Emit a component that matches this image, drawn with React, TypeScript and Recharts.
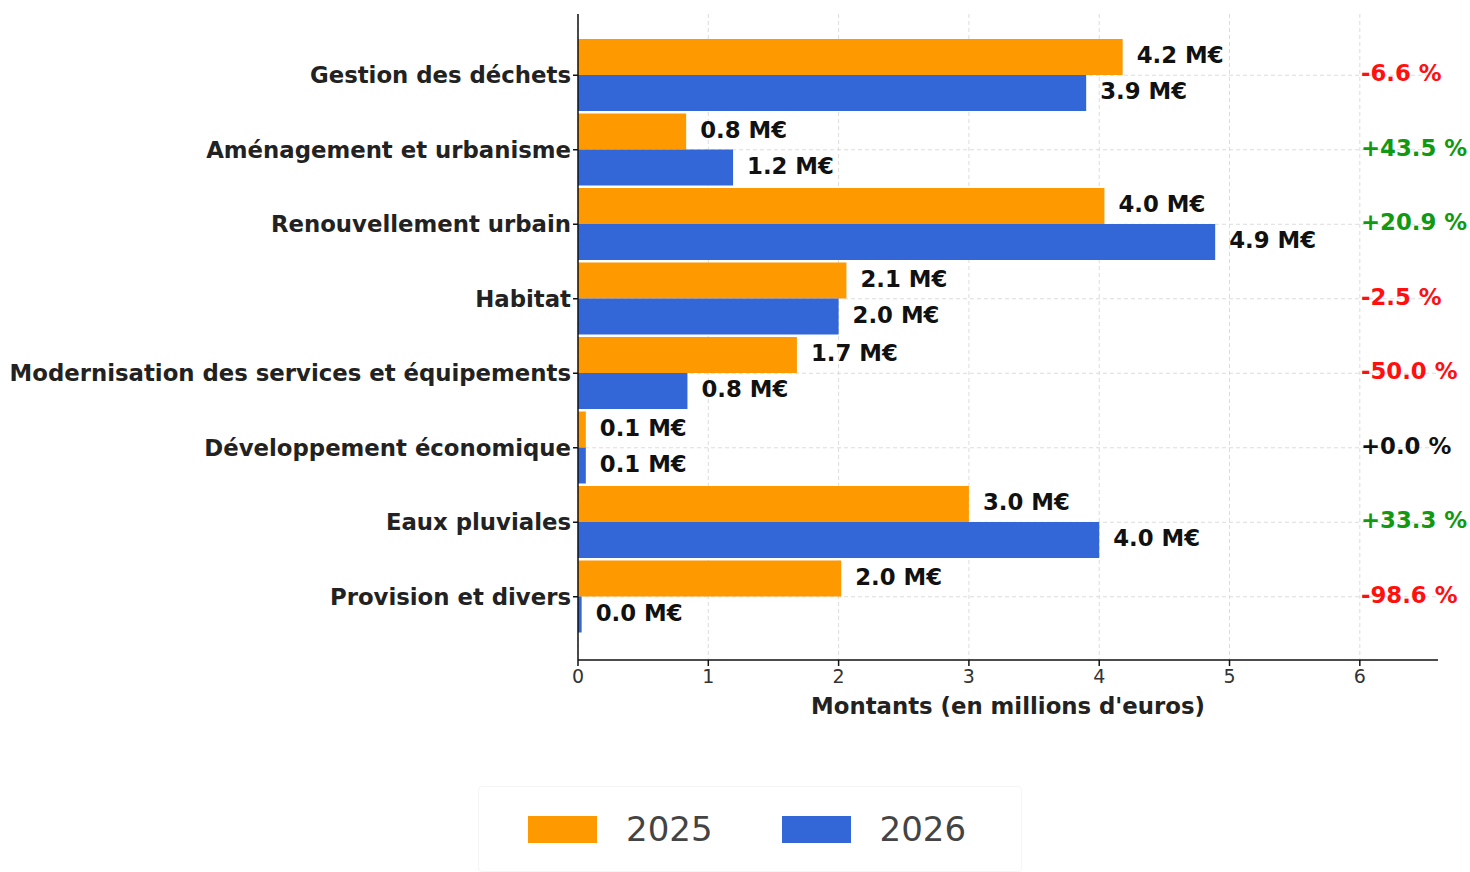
import { BarChart, Bar, XAxis, YAxis, CartesianGrid, LabelList } from 'recharts'

const categories = [
  'Gestion des déchets',
  'Aménagement et urbanisme',
  'Renouvellement urbain',
  'Habitat',
  'Modernisation des services et équipements',
  'Développement économique',
  'Eaux pluviales',
  'Provision et divers',
]
const values2025 = [4.18, 0.83, 4.04, 2.06, 1.68, 0.06, 3.0, 2.02]
const values2026 = [3.9, 1.19, 4.89, 2.0, 0.84, 0.06, 4.0, 0.028]
const variations = ['-6.6 %', '+43.5 %', '+20.9 %', '-2.5 %', '-50.0 %', '+0.0 %', '+33.3 %', '-98.6 %']
const xTicks = [0, 1, 2, 3, 4, 5, 6]

const ORANGE = '#FF9900'
const BLUE = '#3366D6'
const FONT = '"DejaVu Sans", Verdana, sans-serif'

const data = categories.map((name, i) => ({
  name,
  v2025: values2025[i],
  v2026: values2026[i],
  variation: variations[i],
}))

const variationColor = (s: string) => (s.startsWith('-') ? '#FF1010' : s.startsWith('+0.0') ? '#111' : '#119911')

function VariationTick(props: any) {
  const { x, y, payload } = props
  const row = data.find((d) => d.name === payload.value)
  if (!row) return null
  return (
    <text x={x - 77} y={y - 2} dy="0.35em" textAnchor="start" fontSize={22.8} fontWeight="bold" fontFamily={FONT} fill={variationColor(row.variation)}>
      {row.variation}
    </text>
  )
}

const fmt = (v: any) => `${Number(v).toFixed(1)} M€`

export default function App() {
  return (
    <div style={{ position: 'absolute', left: 0, top: 0, width: 1470, height: 872, background: '#fff', fontFamily: FONT }}>
      <BarChart
        width={1470}
        height={740}
        data={data}
        layout="vertical"
        margin={{ top: 14, right: 0, bottom: 0, left: 0 }}
        barGap={0}
        barSize={36}
      >
        <CartesianGrid stroke="#dcdcdc" strokeDasharray="4 3" syncWithTicks />
        <XAxis
          type="number"
          domain={[0, 6.6]}
          ticks={xTicks}
          allowDataOverflow
          height={80}
          tickSize={6}
          tickMargin={4}
          stroke="#111"
          strokeWidth={1.5}
          tick={{ fontSize: 19, fill: '#333', fontFamily: FONT }}
          label={{ value: "Montants (en millions d'euros)", position: 'insideBottom', offset: 26, fontSize: 22.8, fontWeight: 'bold', fill: '#222', fontFamily: FONT }}
        />
        <YAxis
          type="category"
          dataKey="name"
          width={578}
          padding={{ top: 24, bottom: 26 }}
          tickSize={5}
          tickMargin={2}
          stroke="#111"
          strokeWidth={1.5}
          interval={0}
          tick={{ fontSize: 22.8, fontWeight: 'bold', fill: '#222', fontFamily: FONT }}
        />
        <YAxis
          yAxisId="right"
          orientation="right"
          type="category"
          dataKey="name"
          width={32}
          padding={{ top: 24, bottom: 26 }}
          axisLine={false}
          tickLine={false}
          tickSize={0}
          tickMargin={0}
          interval={0}
          tick={<VariationTick />}
        />
        <Bar dataKey="v2025" name="2025" fill={ORANGE} isAnimationActive={false}>
          <LabelList dataKey="v2025" position="right" offset={14} formatter={fmt} dy={-2} fontSize={22.8} fontWeight="bold" fill="#111" fontFamily={FONT} />
        </Bar>
        <Bar dataKey="v2026" name="2026" fill={BLUE} isAnimationActive={false}>
          <LabelList dataKey="v2026" position="right" offset={14} formatter={fmt} dy={-2} fontSize={22.8} fontWeight="bold" fill="#111" fontFamily={FONT} />
        </Bar>
      </BarChart>
      <div
        style={{
          position: 'absolute',
          left: 478,
          top: 786,
          width: 542,
          height: 84,
          border: '1px solid #f5f5f5',
          borderRadius: 4,
          display: 'flex',
          alignItems: 'center',
          fontSize: 34,
          color: '#444',
        }}
      >
        <span style={{ display: 'inline-block', width: 69, height: 27, background: ORANGE, marginLeft: 49 }} />
        <span style={{ marginLeft: 29 }}>2025</span>
        <span style={{ display: 'inline-block', width: 69, height: 27, background: BLUE, marginLeft: 69 }} />
        <span style={{ marginLeft: 29 }}>2026</span>
      </div>
    </div>
  )
}
